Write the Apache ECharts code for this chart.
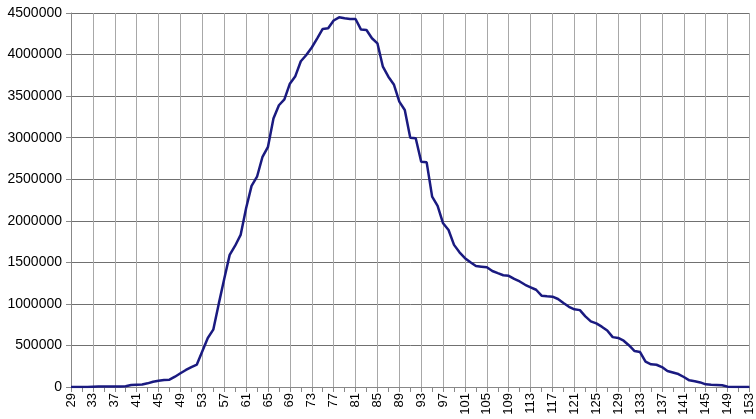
<!DOCTYPE html>
<html>
<head>
<meta charset="utf-8">
<script src="https://cdn.jsdelivr.net/npm/echarts@6/dist/echarts.min.js"></script>
<style>
html,body{margin:0;padding:0;background:#fff;}
#chart{width:756px;height:419px;}
</style>
</head>
<body>
<div id="chart"></div>
<script>
// Categories 29..153
const categories = [];
for (let c = 29; c <= 153; c++) categories.push(String(c));

const values = [
  0, 0, 0, 0, 4000, 5000, 5000, 6000, 6000, 7000, 8000, 25000,   // 29-40
  28000, 30000, 44000, 64000, 75000, 84000, 88000, 124000, 165000, 205000, 240000, 270000, // 41-52
  430000, 590000, 690000, 1000000, 1300000, 1590000, 1700000, 1830000, 2150000, 2420000, 2530000, 2770000, // 53-64
  2890000, 3230000, 3390000, 3460000, 3650000, 3740000, 3920000, 3995000, 4085000, 4195000, 4308000, 4316000, // 65-76
  4410000, 4448000, 4436000, 4428000, 4428000, 4300000, 4296000, 4196000, 4135000, 3854000, 3734000, 3640000, // 77-88
  3433000, 3333000, 3000000, 2992000, 2711000, 2703000, 2290000, 2180000, 1970000, 1889000, 1710000, 1620000, // 89-100
  1550000, 1500000, 1456000, 1448000, 1440000, 1396000, 1370000, 1345000, 1338000, 1300000, 1270000, 1230000, // 101-112
  1200000, 1170000, 1099000, 1092000, 1087000, 1059000, 1010000, 965000, 935000, 925000, 850000, 790000, // 113-124
  765000, 726000, 680000, 600000, 590000, 557000, 500000, 433000, 420000, 304000, 273000, 268000, // 125-136
  240000, 193000, 175000, 156000, 120000, 80000, 70000, 55000, 32000, 28000, 25000, 22000, // 137-148
  4000, 0, 0, 0, 0 // 149-153
];
const seriesValues = values.slice(0, categories.length);

const yMin = 0, yMax = 4500000, yStep = 500000;

const chart = echarts.init(document.getElementById('chart'), null, {renderer: 'canvas'});
chart.setOption({
  animation: false,
  backgroundColor: '#ffffff',
  grid: {left: 71, right: 3, top: 13, bottom: 32, containLabel: false},
  xAxis: {
    type: 'category',
    data: categories,
    boundaryGap: false,
    axisLine: {lineStyle: {color: '#888', width: 1}},
    axisTick: {show: true, interval: 1, length: 5, lineStyle: {color: '#888'}},
    axisLabel: {interval: 3, rotate: 90, margin: 6, color: '#000', fontSize: 13, fontFamily: 'Liberation Sans'},
    splitLine: {show: true, interval: 3, lineStyle: {color: '#a8a8a8', width: 1}}
  },
  yAxis: {
    type: 'value',
    min: yMin, max: yMax, interval: yStep,
    axisLine: {show: true, lineStyle: {color: '#888'}},
    axisTick: {show: true, length: 5, lineStyle: {color: '#888'}},
    axisLabel: {margin: 9, color: '#000', fontSize: 14, fontFamily: 'Liberation Sans', formatter: v => String(v)},
    splitLine: {show: true, lineStyle: {color: '#707070', width: 1}}
  },
  series: [{
    type: 'line',
    data: seriesValues,
    showSymbol: false,
    symbol: 'none',
    lineStyle: {color: '#1a1a80', width: 2.5},
    smooth: false
  }]
});
</script>
</body>
</html>
